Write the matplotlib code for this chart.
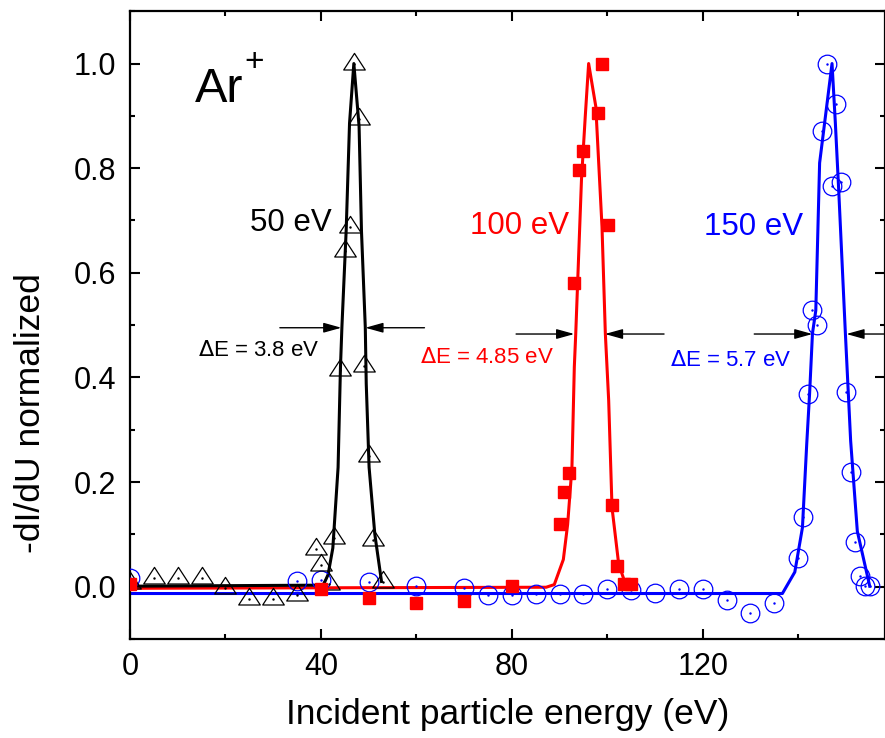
import matplotlib
matplotlib.use("Agg")
import matplotlib.pyplot as plt
from matplotlib.path import Path
from matplotlib.ticker import MultipleLocator, FormatStrFormatter

plt.rcParams['font.family'] = ['Liberation Sans', 'DejaVu Sans']

# measured points, 50 eV beam (open triangles)
e50_x = [0, 5, 10, 15, 20, 25, 30, 35, 39, 40, 41.7, 42.7, 44, 45, 46, 47, 48, 49, 50, 51, 53]
e50_y = [0.008, 0.016, 0.016, 0.016, -0.003, -0.023, -0.023, -0.016, 0.073, 0.041, 0.005,
         0.094, 0.415, 0.642, 0.687, 1.0, 0.894, 0.422, 0.249, 0.089, 0.009]

# measured points, 100 eV beam (filled squares)
e100_x = [0, 40, 50, 60, 70, 80, 90.2, 91, 92, 93, 94, 95, 98, 99, 100.1, 101, 102, 103.6, 105]
e100_y = [0.006, -0.005, -0.021, -0.032, -0.028, 0.002, 0.12, 0.181, 0.218, 0.58, 0.797,
          0.833, 0.906, 1.0, 0.692, 0.156, 0.04, 0.006, 0.006]

# measured points, 150 eV beam (open circles)
e150_x = [0, 35, 40, 50, 60, 70, 75, 80, 85, 90, 95, 100, 105, 110, 115, 120, 125, 130, 135,
          140, 141, 142, 143, 144, 145, 146, 147, 148, 149, 150, 151, 152, 153, 154, 155]
e150_y = [0.016, 0.011, 0.013, 0.009, 0.002, -0.003, -0.016, -0.016, -0.013, -0.014, -0.014,
          -0.005, -0.007, -0.012, -0.005, -0.005, -0.026, -0.051, -0.032, 0.054, 0.133,
          0.369, 0.529, 0.501, 0.872, 1.0, 0.766, 0.923, 0.773, 0.372, 0.219, 0.086, 0.02,
          0.001, 0.001]

# fitted curves
fit50_x = [0, 40.5, 41.5, 42.5, 43.6, 44.1, 44.4, 45.3, 46.0, 46.9, 48.0, 48.5, 49.3, 49.5,
           50.1, 51.3, 52.7]
fit50_y = [0.001, 0.003, 0.023, 0.074, 0.228, 0.42, 0.496, 0.682, 0.886, 1.0, 0.88, 0.68,
           0.496, 0.388, 0.228, 0.10, 0.01]
fit100_x = [0, 87.2, 88.9, 90.8, 91.7, 92.6, 93.1, 93.4, 94.6, 95.4, 96.1, 97.6, 98.9, 99.6,
            100.3, 101.0, 102.4, 103.6]
fit100_y = [-0.003, -0.001, 0.004, 0.052, 0.119, 0.228, 0.42, 0.484, 0.778, 0.9, 1.0, 0.918,
            0.688, 0.484, 0.356, 0.151, 0.043, 0.011]
fit150_x = [0, 136.7, 139.3, 140.9, 141.8, 142.4, 143.0, 143.7, 144.5, 147.1, 147.8, 148.5,
            149.9, 151.0, 152.4, 155.0]
fit150_y = [-0.013, -0.013, 0.028, 0.113, 0.273, 0.369, 0.484, 0.528, 0.81, 1.0, 0.886,
            0.758, 0.484, 0.279, 0.106, 0.001]

# FWHM markers: (left tail, left tip, right tail, right tip, y)
fwhm = [
    (31.4, 44.3, 61.7, 49.3, 0.495, '50 eV', r'$\Delta$E = 3.8 eV', 'black'),
    (80.9, 93.1, 111.9, 99.5, 0.483, '100 eV', r'$\Delta$E = 4.85 eV', 'red'),
    (130.8, 143.0, 162.0, 150.1, 0.483, '150 eV', r'$\Delta$E = 5.7 eV', 'blue'),
]
label_pos = [(25.1, 0.68), (71.3, 0.675), (120.3, 0.673)]
delta_pos = [(14.3, 0.441), (60.8, 0.427), (113.1, 0.422)]

# wide Origin-style triangle, centred on its centroid
tri = Path([(-1, -0.51), (1, -0.51), (0, 1.03), (-1, -0.51)],
           [Path.MOVETO, Path.LINETO, Path.LINETO, Path.CLOSEPOLY])

fig = plt.figure(figsize=(8.85, 7.38), dpi=100)
ax = fig.add_axes([0.1469, 0.1341, 0.8531, 0.8507])

ax.plot(fit150_x, fit150_y, color='blue', lw=2.2, zorder=2)
ax.plot(fit100_x, fit100_y, color='red', lw=2.2, zorder=2)
ax.plot(fit50_x, fit50_y, color='black', lw=2.2, zorder=2)

ax.plot(e150_x, e150_y, ls='none', marker='o', ms=13.4, mfc='none', mec='blue', mew=0.9, zorder=3)
ax.plot(e150_x, e150_y, ls='none', marker='.', ms=1.5, color='blue', zorder=3)
ax.plot(e50_x, e50_y, ls='none', marker=tri, ms=16, mfc='none', mec='black', mew=0.9, zorder=3)
ax.plot(e50_x, e50_y, ls='none', marker='.', ms=1.5, color='black', zorder=3)
ax.plot(e100_x, e100_y, ls='none', marker='s', ms=8.6, mfc='red', mec='red', zorder=4)

arrow = dict(arrowstyle='-|>,head_length=0.9,head_width=0.25', color='black', lw=1.0,
             shrinkA=0, shrinkB=0, mutation_scale=12)
for (lt, lh, rt, rh, y, lab, dlab, col), (lx, ly), (dx, dy) in zip(fwhm, label_pos, delta_pos):
    ax.annotate('', xy=(lh, y), xytext=(lt, y), arrowprops=arrow, annotation_clip=False)
    ax.annotate('', xy=(rh, y), xytext=(rt, y), arrowprops=arrow, annotation_clip=False)
    ax.text(lx, ly, lab, color=col, fontsize=22.5, ha='left', va='baseline')
    ax.text(dx, dy, dlab, color=col, fontsize=16, ha='left', va='baseline')

ax.text(13.6, 0.927, 'Ar', fontsize=35, ha='left', va='baseline')
ax.text(24.0, 0.985, '+', fontsize=24, ha='left', va='baseline')

ax.set_xlim(0, 158.2)
ax.set_ylim(-0.1, 1.1)
ax.xaxis.set_major_locator(MultipleLocator(40))
ax.xaxis.set_minor_locator(MultipleLocator(20))
ax.yaxis.set_major_locator(MultipleLocator(0.2))
ax.yaxis.set_minor_locator(MultipleLocator(0.1))
ax.yaxis.set_major_formatter(FormatStrFormatter('%.1f'))

for s in ax.spines.values():
    s.set_linewidth(1.6)
ax.tick_params(which='both', direction='in', top=True, right=True, width=1.5)
ax.tick_params(which='major', length=7.5)
ax.tick_params(which='minor', length=3.8)
ax.tick_params(axis='x', which='major', pad=9, labelsize=22)
ax.tick_params(axis='y', which='major', pad=10, labelsize=22)

ax.set_xlabel('Incident particle energy (eV)', fontsize=25.5, labelpad=12)
fig.text(0.034, 0.44, '-dI/dU normalized', fontsize=25.5, rotation=90, ha='center', va='center')

fig.savefig('out.png', dpi=100)
